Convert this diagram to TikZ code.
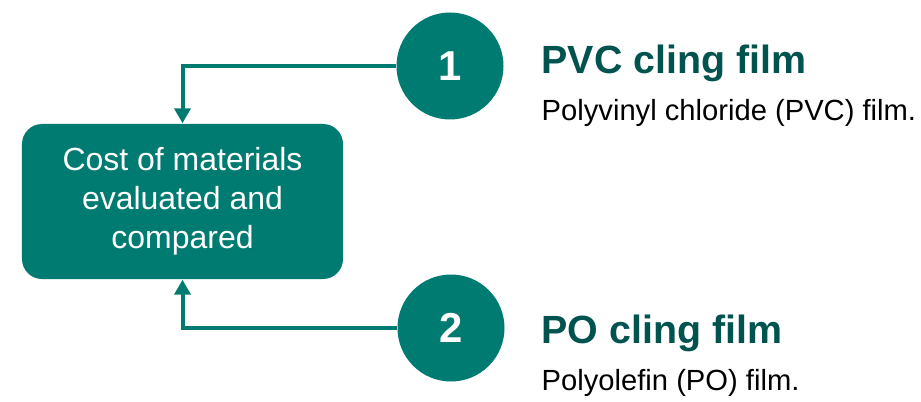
\documentclass[tikz,border=0pt]{standalone}
\usepackage{fontspec}
\setmainfont{Liberation Sans}
\usetikzlibrary{arrows.meta}

\definecolor{tealfill}{HTML}{007B71}
\definecolor{tealdark}{HTML}{00534E}

\begin{document}
\begin{tikzpicture}[
        box/.style={fill=tealfill, rounded corners=0.2cm, minimum width=3.21cm, minimum height=1.55cm,
                    align=center, text=white, font=\fontsize{9.1}{11.1}\selectfont},
        num/.style={circle, fill=tealfill, minimum size=1.07cm, inner sep=0pt, text=white,
                    font=\fontsize{11.9}{12}\selectfont\bfseries},
        title/.style={anchor=base west, inner sep=0pt, text=tealdark, font=\fontsize{11.2}{12}\selectfont\bfseries},
        desc/.style={anchor=base west, inner sep=0pt, font=\fontsize{8.3}{10}\selectfont},
        arr/.style={tealfill, line width=0.04cm, -{Triangle[width=0.16cm, length=0.15cm]}}
    ]
        \useasboundingbox (0, 0) rectangle (9.21, 4.01);

        \node[box] (cost) at (1.825, 1.995) {Cost of materials\\evaluated and\\compared};

        \node[num] (one) at (4.50, 3.35) {1};
        \node[num] (two) at (4.51, 0.73) {2};

        \draw[arr] (one.west) -| (cost.north);
        \draw[arr] (two.west) -| (cost.south);

        \node[title] (pvc) at (5.41, 3.28) {PVC cling film};
        \node[desc] (pvcdesc) at (5.41, 2.81) {Polyvinyl chloride (PVC) film.};

        \node[title] (po) at (5.41, 0.58) {PO cling film};
        \node[desc] (podesc) at (5.41, 0.11) {Polyolefin (PO) film.};
    \end{tikzpicture}
\end{document}
